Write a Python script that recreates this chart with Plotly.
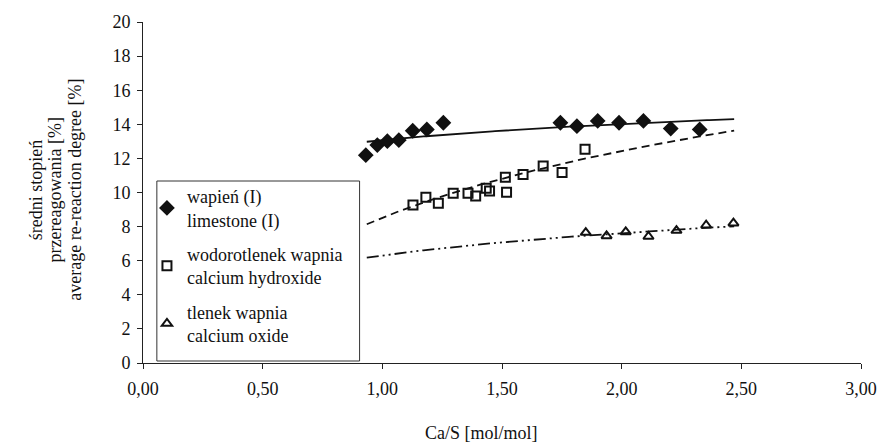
import numpy as np
import plotly.graph_objects as go

# Measured points: Ca/S ratio [mol/mol] vs average re-reaction degree [%]
limestone_x = [0.931, 0.979, 1.021, 1.069, 1.127, 1.186, 1.255,
               1.744, 1.813, 1.900, 1.989, 2.091, 2.205, 2.326]
limestone_y = [12.19, 12.78, 13.01, 13.07, 13.62, 13.70, 14.09,
               14.09, 13.89, 14.20, 14.09, 14.20, 13.75, 13.70]

hydroxide_x = [1.128, 1.182, 1.234, 1.296, 1.358, 1.390, 1.434,
               1.448, 1.514, 1.519, 1.588, 1.672, 1.751, 1.847]
hydroxide_y = [9.27, 9.72, 9.37, 9.95, 9.95, 9.80, 10.25,
               10.09, 10.89, 10.01, 11.06, 11.55, 11.18, 12.53]

oxide_x = [1.850, 1.937, 2.017, 2.112, 2.229, 2.353, 2.467]
oxide_y = [7.65, 7.45, 7.69, 7.42, 7.77, 8.08, 8.20]

# Logarithmic trend lines y = a + b*ln(x): [a, b] for each material
limestone_trend = [13.07, 1.37]
hydroxide_trend = [8.52, 5.65]
oxide_trend = [6.31, 1.89]
# Ca/S range covered by the trend lines (incl. forecast)
trend_span = [0.935, 2.47]

x_ticks = [0.0, 0.5, 1.0, 1.5, 2.0, 2.5, 3.0]
y_ticks = [0, 2, 4, 6, 8, 10, 12, 14, 16, 18, 20]

legend_names = ["wapień (I)<br>limestone (I)",
                "wodorotlenek wapnia<br>calcium hydroxide",
                "tlenek wapnia<br>calcium oxide"]
y_title_lines = ["średni stopień", "przereagowania [%]",
                 "average re-reaction degree [%]"]
x_title = "Ca/S [mol/mol]"

FONT = "Liberation Serif"
INK = "#111111"
FS = 18


def trend_curve(coef, span, n=150):
    gx = np.linspace(span[0], span[1], n)
    return gx, coef[0] + coef[1] * np.log(gx)


fig = go.Figure()

series = [
    (limestone_x, limestone_y, limestone_trend, "diamond", 10, "solid"),
    (hydroxide_x, hydroxide_y, hydroxide_trend, "square-open", 9, "8px,5px"),
    (oxide_x, oxide_y, oxide_trend, "triangle-up-open", 9,
     "12px,4px,2px,4px,2px,4px"),
]

for xs, ys, coef, sym, size, dash in series:
    tx, ty = trend_curve(coef, trend_span)
    fig.add_trace(go.Scatter(
        x=tx, y=ty, mode="lines", showlegend=False, hoverinfo="skip",
        line=dict(color=INK, width=1.8, dash=dash)))

for i, (xs, ys, coef, sym, size, dash) in enumerate(series):
    fig.add_trace(go.Scatter(
        x=xs, y=ys, mode="markers", name=legend_names[i],
        legendgroup=f"g{i}",
        marker=dict(symbol=sym, size=size, color=INK,
                    line=dict(color=INK, width=2))))

axis_common = dict(
    showgrid=False, zeroline=False, showline=True, linecolor="#222222",
    linewidth=1, ticks="outside", ticklen=5, tickcolor="#222222",
    tickfont=dict(family=FONT, size=FS, color=INK),
)

fig.update_xaxes(range=[0, 3], tickvals=x_ticks, tickformat=".2f",
                 ticklabelstandoff=4, **axis_common)
fig.update_yaxes(range=[0, 20], tickvals=y_ticks, tickformat="d",
                 ticklabelstandoff=3, **axis_common)

# Plot area in pixels: x 143..869, y 22..363
PL, PW, PT, PH = 143, 726, 22, 341


def px_x(p):
    return (p - PL) / PW


def px_y(p):
    return (PT + PH - p) / PH


annotations = [
    dict(text=x_title, xref="paper", yref="paper",
         x=px_x(485), y=px_y(433), xanchor="center", yanchor="middle",
         showarrow=False, font=dict(family=FONT, size=FS, color=INK)),
]
for k, line in enumerate(y_title_lines):
    annotations.append(dict(
        text=line, xref="paper", yref="paper",
        x=px_x(35 + 19.5 * k), y=px_y(190),
        xanchor="center", yanchor="middle", textangle=-90,
        showarrow=False, font=dict(family=FONT, size=FS, color=INK)))

fig.update_layout(
    width=889, height=443,
    margin=dict(l=PL, r=889 - PL - PW, t=PT, b=443 - PT - PH),
    paper_bgcolor="white", plot_bgcolor="white",
    separators=", ",
    font=dict(family=FONT, size=FS, color=INK),
    legend=dict(
        x=px_x(147), y=px_y(178), xanchor="left", yanchor="top",
        bgcolor="rgba(255,255,255,0)", borderwidth=0,
        tracegroupgap=8, itemsizing="trace",
        font=dict(family=FONT, size=FS, color=INK),
    ),
    shapes=[dict(type="rect", xref="paper", yref="paper",
                 x0=px_x(157), x1=px_x(362), y0=px_y(361), y1=px_y(181),
                 line=dict(color="#333333", width=1),
                 fillcolor="white", layer="below")],
    annotations=annotations,
)

fig.write_html("out.html")
